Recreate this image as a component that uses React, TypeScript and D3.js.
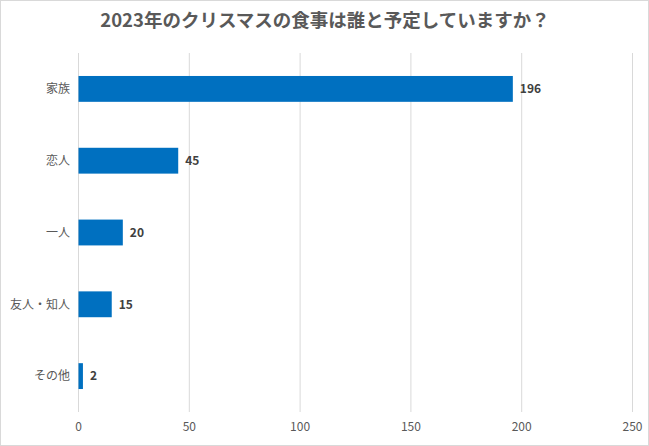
import React from 'react';
import * as d3 from 'd3';

const title = '2023年のクリスマスの食事は誰と予定していますか？';
const categories = ['家族', '恋人', '一人', '友人・知人', 'その他'];
const values = [196, 45, 20, 15, 2];
const xTicks = [0, 50, 100, 150, 200, 250];

const W = 649;
const H = 446;
const font = '"Noto Sans CJK JP", "Noto Sans", sans-serif';

export default function App() {
  const x = d3.scaleLinear().domain([0, 250]).range([78.5, 632.5]);
  const y = d3.scaleBand<string>().domain(categories).range([53, 412]).paddingInner(0.64).paddingOuter(0.32);
  return (
    <svg width={W} height={H} style={{ position: 'absolute', left: 0, top: 0 }} fontFamily={font}>
      <rect x={0.5} y={0.5} width={W - 1} height={H - 1} fill="#fff" stroke="#d9d9d9" />
      <text x={325} y={27} textAnchor="middle" fontSize={18.5} fontWeight="bold" fill="#595959">{title}</text>
      {xTicks.map(t => (
        <g key={t}>
          <line x1={x(t)} x2={x(t)} y1={53} y2={412} stroke="#d9d9d9" strokeWidth={1} />
          <text x={x(t)} y={431} textAnchor="middle" fontSize={12} fill="#595959">{t}</text>
        </g>
      ))}
      {categories.map((c, i) => {
        const yy = y(c)!;
        const bh = y.bandwidth();
        return (
          <g key={c}>
            <rect x={x(0)} y={yy} width={x(values[i]) - x(0)} height={bh} fill="#0070C0" />
            <text x={70} y={yy + bh / 2} dy="0.35em" textAnchor="end" fontSize={12} fill="#595959">{c}</text>
            <text x={x(values[i]) + 7} y={yy + bh / 2} dy="0.35em" textAnchor="start" fontSize={12} fontWeight="bold" fill="#404040">{values[i]}</text>
          </g>
        );
      })}
    </svg>
  );
}
